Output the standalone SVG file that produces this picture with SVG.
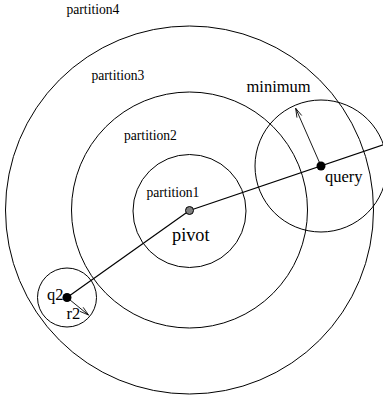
<svg xmlns="http://www.w3.org/2000/svg" width="383" height="403" viewBox="0 0 383 403">
<style>
.c{fill:none;stroke:#000;stroke-width:1}
.l{fill:none;stroke:#000;stroke-width:1.2}
.a{fill:none;stroke:#000;stroke-width:0.9}
.t{font-family:"Liberation Serif","Times New Roman",serif;fill:#000}
.s{font-size:13.6px}
.b{font-size:16.5px}
</style>
<defs>
<marker id="ah" markerUnits="userSpaceOnUse" markerWidth="12" markerHeight="10" viewBox="-10 -5 12 10" refX="0" refY="0" orient="auto">
<path d="M-9,-2.6 L0,0 L-9,2.6" fill="none" stroke="#000" stroke-width="0.8"/>
</marker>
</defs>
<rect width="383" height="403" fill="#fff"/>
<g id="partition4"><circle class="c" cx="189.5" cy="210" r="184"/><text class="t s" x="66.5" y="14">partition4</text></g>
<g id="partition3"><text class="t s" x="91.5" y="80">partition3</text></g>
<g id="partition2"><circle class="c" cx="189.5" cy="210" r="118"/><text class="t s" x="124" y="140">partition2</text></g>
<g id="partition1"><circle class="c" cx="189.5" cy="211" r="56.5"/><text class="t s" x="146.5" y="197">partition1</text></g>
<g id="query"><circle class="c" cx="321" cy="166" r="66"/><text class="t b" x="325" y="182">query</text></g>
<g id="q2"><circle class="c" cx="67" cy="297.5" r="29.5"/><text class="t b" x="47" y="300">q2</text><text class="t b" x="66.5" y="319">r2</text></g>
<g id="minimum"><text class="t b" x="246.5" y="91.5">minimum</text></g>
<g id="connectors">
<line class="l" x1="189.5" y1="210.5" x2="384" y2="144.5"/>
<line class="l" x1="189.5" y1="210.5" x2="67" y2="297.5"/>
<line class="a" x1="321" y1="166" x2="295.7" y2="108.3" marker-end="url(#ah)"/>
<line class="a" x1="67" y1="297.5" x2="88.5" y2="315" marker-end="url(#ah)"/>
</g>
<g id="pivot"><circle cx="189.5" cy="210.5" r="4" fill="#808080" stroke="#000" stroke-width="1"/><text class="t" style="font-size:18.3px" x="172" y="240.5">pivot</text></g>
<g id="dots"><circle cx="321" cy="166" r="4.5" fill="#000"/><circle cx="67" cy="297.5" r="4.5" fill="#000"/></g>
</svg>
